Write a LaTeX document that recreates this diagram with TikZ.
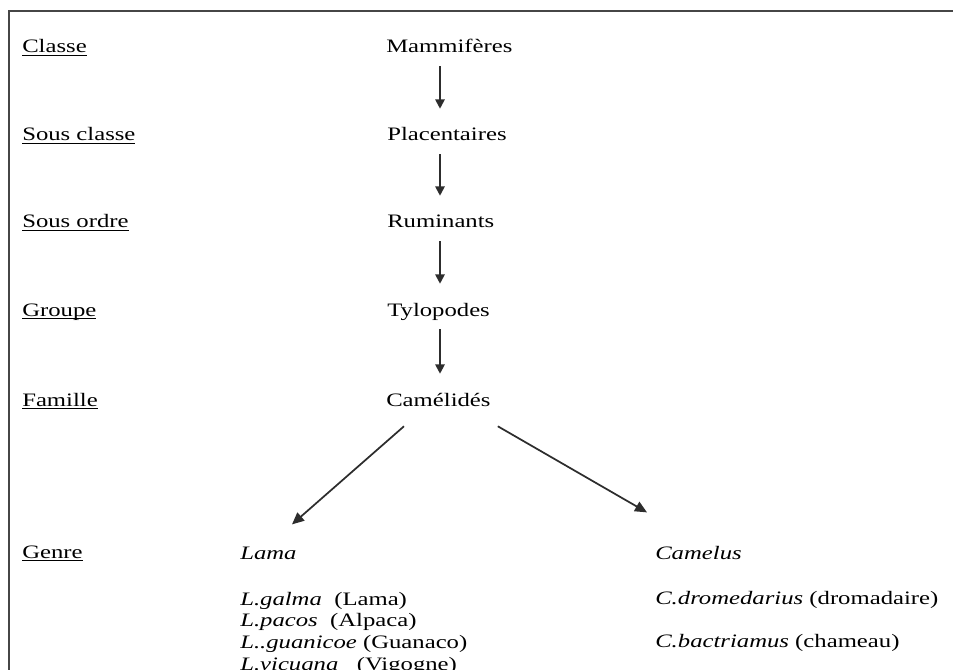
\documentclass[tikz,border=0pt]{standalone}
\usepackage{fontspec}
\setmainfont{Liberation Serif}[FakeStretch=1.3]
\usepackage{tikz}
\usetikzlibrary{arrows.meta}
\definecolor{cadreGris}{RGB}{70,70,70}
\definecolor{flecheGris}{RGB}{45,45,45}
\newsavebox{\soulignebox}
\newcommand{\souligne}[1]{\sbox{\soulignebox}{#1}\rlap{\rule[-2.2pt]{\wd\soulignebox}{1pt}}\usebox{\soulignebox}}

\begin{document}
\begin{tikzpicture}[
    x=0.75pt, y=-0.75pt,
    every node/.style={inner sep=0pt, font=\fontsize{14.25pt}{16pt}\selectfont},
    rang/.style={anchor=base west, text height=10pt, text depth=3pt},
    taxon/.style={anchor=base west, text height=10pt, text depth=3pt},
    cadre/.style={line width=1.5pt, draw=cadreGris},
    fleche/.style={-{Triangle[length=7pt,width=7pt]}, line width=1.4pt, draw=flecheGris, fill=flecheGris, shorten <=6.75pt, shorten >=14pt},
    branche/.style={-{Triangle[length=9pt,width=8pt]}, line width=1.3pt, draw=flecheGris, fill=flecheGris}
]
\useasboundingbox (0,0) rectangle (953,670);

% Cadre
\draw[cadre] (953,11) -- (9,11) -- (9,671);

% Rangs
\node[rang] (classe) at (22,53) {\souligne{Classe}};
\node[rang] (sousclasse) at (22,141) {\souligne{Sous classe}};
\node[rang] (sousordre) at (22,228) {\souligne{Sous ordre}};
\node[rang] (groupe) at (22,316) {\souligne{Groupe}};
\node[rang] (famille) at (22,406) {\souligne{Famille}};
\node[rang] (genre) at (22,558) {\souligne{Genre}};

% Taxons
\node[taxon] (mam) at (386,53) {Mammifères};
\node[taxon] (pla) at (387,141) {Placentaires};
\node[taxon] (rum) at (387,228) {Ruminants};
\node[taxon] (tyl) at (387,316) {Tylopodes};
\node[taxon] (cam) at (386,406) {Camélidés};

% Genres
\node[taxon] (lama) at (240,559) {\textit{Lama}};
\node[taxon] (camelus) at (655,559) {\textit{Camelus}};

% Especes
\node[taxon] (galma) at (240,605) {\textit{L.galma}\ \ (Lama)};
\node[taxon] (pacos) at (240,626.5) {\textit{L.pacos}\ \ (Alpaca)};
\node[taxon] (guanicoe) at (240,648) {\textit{L..guanicoe} (Guanaco)};
\node[taxon] (vicugna) at (240,670) {\textit{L.vicugna}\ \ \ (Vigogne)};
\node[taxon] (dromedarius) at (655,604) {\textit{C.dromedarius} (dromadaire)};
\node[taxon] (bactriamus) at (655,647) {\textit{C.bactriamus} (chameau)};

% Fleches
\coordinate (axe) at (440,0);
\draw[fleche] (mam.south -| axe) -- (pla.north -| axe);
\draw[fleche] (pla.south -| axe) -- (rum.north -| axe);
\draw[fleche] (rum.south -| axe) -- (tyl.north -| axe);
\draw[fleche] (tyl.south -| axe) -- (cam.north -| axe);
\draw[branche] ([shift={(18,16)}]cam.south west) -- ([shift={(52,-21)}]lama.north west);
\draw[branche] ([shift={(7,16)}]cam.south east) -- ([shift={(-8,-33)}]camelus.north west);

\end{tikzpicture}
\end{document}
